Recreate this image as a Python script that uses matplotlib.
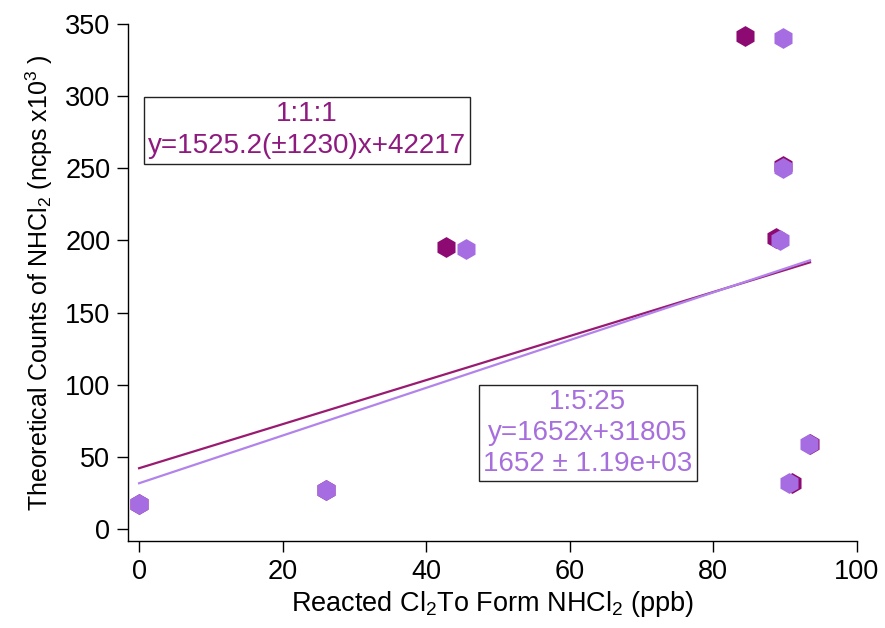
import numpy as np
import matplotlib.pyplot as plt

plt.rcParams['font.family'] = ['Liberation Sans', 'DejaVu Sans']
plt.rcParams['mathtext.fontset'] = 'custom'
plt.rcParams['mathtext.rm'] = 'Liberation Sans'
plt.rcParams['mathtext.it'] = 'Liberation Sans'
plt.rcParams['mathtext.default'] = 'regular'

# reacted Cl2 (ppb) vs theoretical NHCl2 counts (ncps x10^3)
x_111 = [0, 26.0, 42.8, 84.5, 88.8, 89.8, 91.0, 93.5]
y_111 = [17.3, 27.2, 195.5, 341.6, 201.5, 251.7, 32.2, 59.2]
x_1525 = [0, 26.0, 45.6, 89.8, 89.8, 89.3, 90.5, 93.4]
y_1525 = [17.3, 27.2, 194.3, 340.0, 250.5, 200.2, 32.2, 59.2]

# linear fits (counts), converted to x10^3
fit_111 = (1525.2, 42217)
fit_1525 = (1652, 31805)
fit_range = [0, 93.5]

c_dark = '#8c0a72'
c_light = '#a66de2'

fig = plt.figure(figsize=(8.85, 6.28), dpi=100)
ax = fig.add_axes([0.145, 0.139, 0.823, 0.823])

xf = np.array(fit_range)
ax.plot(xf, (fit_111[0] * xf + fit_111[1]) / 1000, color='#9a1a72', lw=1.6, zorder=2)
ax.plot(xf, (fit_1525[0] * xf + fit_1525[1]) / 1000, color='#b283ea', lw=1.6, zorder=2)

ax.plot(x_111, y_111, 'h', color=c_dark, ms=15, mew=0, zorder=3)
ax.plot(x_1525, y_1525, 'h', color=c_light, ms=15, mew=0, zorder=4)

ax.set_xlim(-1.5, 100)
ax.set_ylim(-8, 350)
ax.set_xticks(np.arange(0, 101, 20))
ax.set_yticks(np.arange(0, 351, 50))
for s in ['top', 'right']:
    ax.spines[s].set_visible(False)
for s in ['left', 'bottom']:
    ax.spines[s].set_linewidth(1.0)
ax.tick_params(direction='out', length=8, width=1.0, labelsize=19.5, pad=5)

ax.set_xlabel(r'Reacted Cl$_2$To Form NHCl$_2$ (ppb)', fontsize=19.5, labelpad=3)
ax.set_ylabel(r'Theoretical Counts of NHCl$_2$ (ncps x10$^3$ )', fontsize=18, labelpad=7)

box = dict(boxstyle='square,pad=0.15', facecolor='white', edgecolor='#222222', lw=1.0)
ax.text(0.245, 0.794,
        '1:1:1\ny=1525.2(\u00b11230)x+42217',
        transform=ax.transAxes, ha='center', va='center',
        fontsize=20, color='#8e1a80', bbox=box, linespacing=1.3)
ax.text(0.631, 0.209,
        '1:5:25\ny=1652x+31805\n1652 \u00b1 1.19e+03',
        transform=ax.transAxes, ha='center', va='center',
        fontsize=20, color='#a66fdc', bbox=box, linespacing=1.25)

fig.savefig('out.png', dpi=100)
